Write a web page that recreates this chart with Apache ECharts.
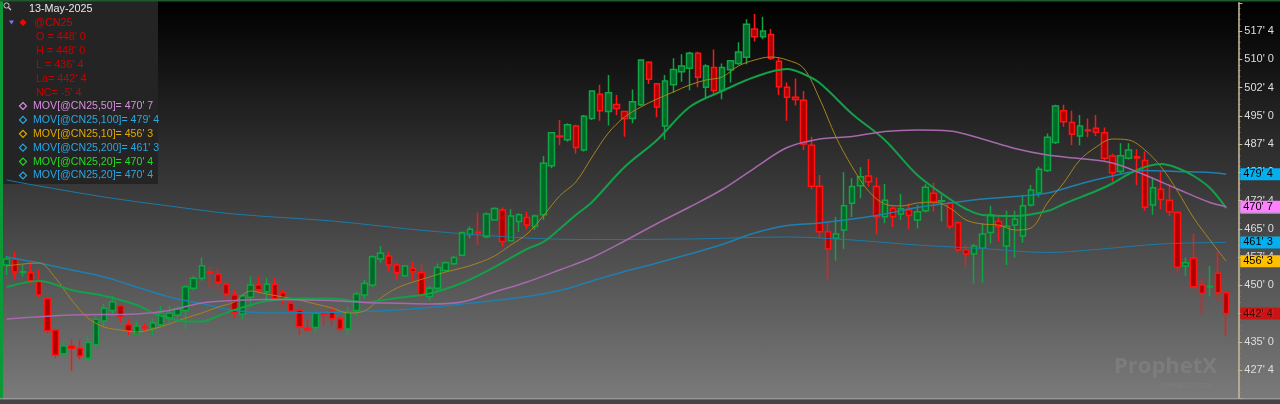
<!DOCTYPE html>
<html><head><meta charset="utf-8">
<script src="https://cdn.jsdelivr.net/npm/echarts@6/dist/echarts.min.js"></script>
<style>
html,body{margin:0;padding:0;background:#000;overflow:hidden;}
#c{width:1280px;height:404px;background:linear-gradient(to bottom,#000 0px,#020202 10px,#7a7a7a 398px);}
</style></head><body><div id="c"></div>
<script>
// ---- candle data (price in cents, eighths as decimals) ----
const opens  = [455.4,456.9,453.4,453.3,451.0,446.5,438.1,431.8,433.9,433.3,430.6,434.2,440.5,443.3,444.6,439.5,437.1,438.9,438.6,439.5,441.2,442.1,443.3,449.2,451.9,453.6,453.0,450.3,447.4,442.4,446.8,450.1,448.3,450.3,448.0,445.2,443.4,438.5,438.8,442.5,443.2,441.1,438.4,443.3,447.4,450.1,457.0,457.8,455.4,452.5,454.5,453.3,447.0,449.2,453.9,455.7,458.0,463.5,464.1,462.9,467.3,470.0,461.8,466.9,468.0,465.6,468.7,481.7,489.6,488.6,492.3,485.9,494.3,500.7,496.1,498.0,496.1,494.3,497.9,509.2,503.5,492.3,503.2,506.7,507.6,511.6,502.6,507.8,501.7,507.2,508.9,510.5,518.0,516.0,516.6,509.5,502.6,499.9,499.1,487.2,476.3,464.2,462.5,464.7,471.8,476.4,479.0,476.2,468.2,470.4,468.9,470.0,467.3,469.8,474.4,472.3,471.8,466.6,459.4,458.3,459.8,464.0,466.9,460.4,466.0,463.1,471.3,474.5,480.5,487.9,496.3,493.2,489.6,491.2,491.7,490.5,484.3,480.2,483.7,484.1,483.1,471.3,475.5,472.6,469.3,455.1,457.2,450.1,449.6,453.2,448.0];
const highs  = [457.8,458.9,455.6,456.1,454.2,446.8,438.3,435.7,435.7,435.7,436.6,441.8,445.0,447.2,444.8,441.1,440.4,439.9,441.1,444.5,444.5,444.5,450.0,452.5,457.4,454.8,454.8,451.0,448.9,447.7,452.3,452.3,452.0,452.0,448.8,446.1,444.1,441.0,443.0,443.4,444.5,441.8,444.2,448.3,451.4,458.0,460.4,458.9,456.0,455.4,456.4,455.7,449.8,455.8,456.3,457.8,464.2,465.6,469.3,469.3,470.7,470.7,470.2,469.1,469.5,468.8,484.3,490.6,493.9,493.0,492.6,495.2,501.8,503.2,505.8,500.5,496.3,502.0,510.0,509.5,503.7,505.8,510.3,511.3,512.0,512.0,508.7,512.6,508.9,509.8,514.5,520.6,522.0,521.3,518.0,510.4,503.8,504.9,501.6,489.4,479.3,466.9,468.1,480.0,478.4,481.3,483.5,478.6,476.9,471.0,474.2,471.6,471.3,476.9,477.2,474.0,472.2,466.9,460.7,461.0,466.5,471.1,468.1,469.8,469.8,474.0,476.6,481.5,490.3,497.9,497.9,496.3,495.2,494.3,495.2,491.9,484.9,487.7,487.7,486.1,485.5,478.7,480.2,476.9,469.6,457.4,463.6,451.9,455.1,458.9,448.0];
const lows   = [452.7,451.6,452.3,450.2,446.9,437.2,430.6,430.9,427.3,430.3,429.7,432.8,438.8,441.8,440.1,436.8,436.8,437.7,436.8,438.8,439.7,441.2,438.3,448.6,451.2,449.2,448.6,445.5,441.5,441.0,444.3,447.7,446.3,445.9,444.8,442.7,436.8,437.9,437.1,439.3,439.2,437.7,436.8,441.8,446.3,449.5,456.0,453.6,451.4,452.3,451.2,446.8,445.9,448.6,453.6,455.4,457.8,462.5,460.7,462.5,467.1,460.2,461.6,464.2,464.9,464.7,467.3,481.1,487.2,488.1,485.0,485.5,493.9,493.7,492.4,495.2,489.4,493.0,497.6,503.4,494.6,488.6,501.1,504.0,501.8,502.6,499.6,500.8,499.4,503.8,508.5,508.7,514.7,515.3,509.8,500.5,493.7,497.7,485.9,475.5,462.5,451.4,456.5,459.6,468.1,473.1,476.2,463.6,466.5,465.4,467.3,464.9,465.1,469.3,469.5,466.9,464.9,458.7,454.9,450.5,450.7,461.1,461.6,455.4,457.4,461.3,470.9,473.4,480.1,487.5,492.1,487.2,487.2,489.3,489.6,483.1,477.5,479.3,483.4,476.6,469.8,468.7,470.2,468.4,453.3,452.5,448.8,442.4,447.0,445.6,436.5];
const closes = [457.0,453.5,453.6,451.2,447.4,437.9,431.5,433.9,433.3,431.2,434.8,441.0,443.9,445.6,441.7,437.9,439.2,438.7,440.0,442.6,442.6,443.7,449.6,451.9,455.2,453.4,450.8,447.7,442.7,447.2,450.1,448.8,450.3,446.5,446.3,443.2,439.0,438.2,442.6,442.2,441.1,438.4,443.0,447.7,450.5,457.6,458.5,455.4,453.3,455.1,453.6,447.4,449.2,454.7,456.0,457.4,464.0,464.9,463.9,468.9,470.4,461.6,468.4,468.7,466.0,468.4,482.4,490.5,489.4,492.6,486.6,494.9,501.6,496.3,501.1,496.9,494.3,498.7,509.8,504.7,497.3,504.2,507.3,508.2,511.6,505.2,508.2,501.7,507.8,509.6,511.9,519.3,516.0,517.5,510.3,502.7,499.9,499.3,487.5,476.3,464.2,459.6,463.6,471.1,476.2,478.8,477.5,468.2,472.6,468.2,470.3,468.5,469.5,476.0,471.9,472.45,465.6,459.4,458.3,460.4,463.6,468.7,465.6,465.7,467.5,471.1,475.3,480.8,489.3,497.6,493.4,490.1,492.3,491.0,490.6,483.7,479.9,484.4,485.9,483.8,470.7,475.9,472.8,469.5,454.8,456.0,449.6,447.9,449.7,448.0,442.5];

// ---- moving averages: [candle index, value] ----
const ma10 = [[0,455.12],[2,455.65],[4,455.91],[6,451.93],[8,446.09],[10,441.31],[12,438.92],[14,438.13],[16,437.60],[18,438.39],[20,439.72],[22,441.31],[24,442.64],[26,444.23],[28,445.56],[30,448.48],[32,447.68],[34,446.89],[36,446.09],[38,445.03],[40,443.97],[42,442.64],[44,443.17],[46,446.62],[48,449.28],[50,450.87],[52,452.20],[54,453.52],[56,454.59],[58,455.91],[60,457.77],[62,460.69],[64,463.61],[66,468.39],[68,473.70],[70,477.42],[72,484.05],[74,490.42],[76,494.67],[78,497.33],[80,499.45],[82,501.31],[84,503.17],[86,504.49],[88,505.29],[90,508.21],[92,509.80],[94,510.60],[96,509.80],[98,507.68],[100,499.45],[102,489.36],[104,481.40],[106,475.03],[108,471.58],[110,471.05],[112,471.84],[114,472.11],[116,470.51],[118,467.33],[120,466.27],[122,466.00],[124,464.67],[126,465.21],[128,471.84],[130,477.15],[132,483.26],[134,486.71],[136,488.83],[138,488.57],[140,485.91],[142,481.40],[144,475.03],[146,467.86],[148,462.02],[150,456.375]];
const ma20 = [[0,449.54],[4,451.14],[8,448.75],[12,447.15],[16,444.76],[18,442.64],[20,441.31],[22,440.38],[24,440.38],[26,441.84],[28,443.44],[30,444.76],[32,445.83],[36,446.49],[40,446.49],[44,445.56],[48,446.62],[52,447.82],[56,450.60],[60,454.85],[64,459.63],[66,461.49],[68,464.94],[70,468.66],[72,472.11],[76,481.40],[80,488.57],[84,497.33],[88,501.57],[92,505.29],[96,507.41],[98,506.09],[100,503.70],[104,495.47],[108,488.57],[112,479.27],[116,472.90],[118,470.25],[120,468.66],[124,468.39],[128,469.72],[130,471.58],[134,475.03],[136,477.02],[138,479.54],[140,481.40],[142,482.19],[144,481.13],[146,479.01],[148,475.82],[150,470.5]];
const ma50 = [[0,441.05],[8,442.11],[16,442.38],[20,443.30],[24,445.30],[28,445.96],[32,446.23],[40,445.96],[44,445.43],[48,445.22],[52,445.03],[56,445.56],[60,448.22],[64,450.87],[68,454.06],[72,457.37],[76,461.75],[80,466.40],[84,470.78],[88,475.43],[92,481.13],[96,486.57],[100,488.83],[104,489.50],[108,490.82],[112,491.22],[116,490.95],[120,488.83],[124,486.31],[128,484.58],[132,483.65],[136,482.46],[140,479.27],[144,475.56],[148,471.97],[150,470.875]];
const ma100 = [[0,457.51],[4,455.91],[8,454.06],[12,452.20],[16,449.54],[20,446.89],[24,445.16],[28,443.30],[32,442.64],[40,442.83],[48,443.44],[56,445.03],[64,447.02],[68,448.61],[72,451.14],[76,453.66],[80,455.91],[84,458.30],[88,460.83],[92,463.88],[96,465.87],[100,466.53],[104,467.59],[108,468.92],[112,470.65],[116,471.84],[120,472.90],[124,473.57],[128,474.50],[132,476.89],[136,479.01],[140,480.47],[144,480.20],[148,479.94],[150,479.5]];
const ma200 = [[0,477.95],[4,476.35],[12,473.43],[20,471.05],[28,468.92],[40,467.06],[52,464.41],[64,462.55],[72,462.15],[84,462.29],[96,462.82],[104,462.02],[112,460.69],[120,459.76],[128,458.70],[134,459.50],[142,460.96],[150,461.375]];
const lastClose = 442.5;

// ---- legend texts ----
const headerDate = '13-May-2025';
const symbolName = '@CN25';
const quoteLines = ["O = 448' 0", "H = 448' 0", "L = 436' 4", "La= 442' 4", "NC= -5' 4"];
const studyLines = [
  ["MOV[@CN25,50]= 470' 7", '#d88ce0'],
  ["MOV[@CN25,100]= 479' 4", '#2aa6e4'],
  ["MOV[@CN25,10]= 456' 3", '#e2a800'],
  ["MOV[@CN25,200]= 461' 3", '#2aa6e4'],
  ["MOV[@CN25,20]= 470' 4", '#22dd22'],
  ["MOV[@CN25,20]= 470' 4", '#2aa6e4']
];

// categories: trading days ending 13-May-2025 (labels hidden)
const categories = [];
(function(){
  let d = new Date(Date.UTC(2025,4,13)); const out = [];
  while (out.length < opens.length) {
    const wd = d.getUTCDay();
    if (wd !== 0 && wd !== 6) out.push(d.toISOString().slice(0,10));
    d.setUTCDate(d.getUTCDate() - 1);
  }
  out.reverse(); categories.push(...out);
})();

function fmt(v){
  const ip = Math.floor(v + 1e-9);
  const e = Math.round((v - ip) * 8);
  return ip + "' " + e;
}

const FONT = '"Liberation Sans", Arial, sans-serif';
const chart = echarts.init(document.getElementById('c'), null, {renderer:'canvas'});

function endLbl(bg){
  return {show:true, distance:14, formatter:p => fmt(p.value[1]), color:'#000', backgroundColor:bg,
    fontSize:11, fontFamily:FONT, padding:[1,3,0,3], width:34, lineHeight:11};
}
function maSeries(name, data, color, width, bg){
  return {name, type:'line', data, smooth:0.35, showSymbol:false, symbol:'none', silent:true,
    lineStyle:{color, width}, z:3, endLabel:endLbl(bg), labelLayout:{hideOverlap:false}};
}

const legendChildren = [
  {type:'rect', shape:{x:3,y:0,width:155,height:184}, style:{fill:'#242424'}},
  {type:'circle', shape:{cx:6.5,cy:5.5,r:2.6}, style:{fill:'none', stroke:'#cfcfcf', lineWidth:1}},
  {type:'line', shape:{x1:8.5,y1:7.5,x2:11,y2:10}, style:{stroke:'#cfcfcf', lineWidth:1.2}},
  {type:'text', x:29, y:9.5, style:{text:headerDate, fill:'#e8e8e8', font:'10.8px '+FONT, verticalAlign:'middle'}},
  {type:'polygon', shape:{points:[[9,20.5],[14,20.5],[11.5,24.5]]}, style:{fill:'#7a72ff'}},
  {type:'polygon', shape:{points:[[23,19],[26.5,22.5],[23,26],[19.5,22.5]]}, style:{fill:'#ff0000'}},
  {type:'text', x:34, y:23, style:{text:symbolName, fill:'#d80000', font:'10.8px '+FONT, verticalAlign:'middle'}}
];
quoteLines.forEach((t,k)=>{
  legendChildren.push({type:'text', x:36, y:37.5 + k*13.8, style:{text:t, fill:'#c80000', font:'10.8px '+FONT, verticalAlign:'middle'}});
});
studyLines.forEach((s,k)=>{
  const cy = 106 + k*13.9;
  legendChildren.push({type:'polygon', shape:{points:[[23,cy-3.5],[26.5,cy],[23,cy+3.5],[19.5,cy]]}, style:{fill:'none', stroke:s[1], lineWidth:1.2}});
  legendChildren.push({type:'text', x:33, y:cy, style:{text:s[0], fill:s[1], font:'10.6px '+FONT, verticalAlign:'middle'}});
});

const option = {
  animation:false,
  backgroundColor:'transparent',
  grid:{left:2.6, right:49.7, top:2.75, bottom:5.7, containLabel:false, outerBoundsMode:'none'},
  xAxis:{type:'category', data:categories, boundaryGap:true,
    axisLine:{show:false}, axisTick:{show:false}, axisLabel:{show:false}, splitLine:{show:false}},
  yAxis:{type:'value', position:'right', offset:8, min:420, max:525, interval:7.5,
    axisLine:{show:true, lineStyle:{color:'#c9bd98', width:1.5}},
    axisTick:{show:true, length:4, lineStyle:{color:'#c9bd98', width:1}},
    minorTick:{show:true, splitNumber:5, length:2, lineStyle:{color:'#b0a688', width:1}},
    splitLine:{show:false},
    axisLabel:{color:'#dedede', fontSize:11, fontFamily:FONT, margin:6, showMinLabel:false, showMaxLabel:false, formatter:fmt}},
  series:[
    {type:'candlestick', data:opens.map((o,i)=>[o, closes[i], lows[i], highs[i]]), barWidth:6, z:2, silent:true,
      itemStyle:{color:'#006b29', color0:'#b00000', borderColor:'#12a444', borderColor0:'#ff1414', borderWidth:1.5}},
    maSeries('MA200', ma200, '#1f79a6', 1, '#00b0f0'),
    maSeries('MA100', ma100, '#1f7fae', 1.5, '#00b0f0'),
    maSeries('MA10', ma10, '#a8841c', 1, '#ffc000'),
    maSeries('MA20', ma20, '#12a048', 2, '#22cc44'),
    maSeries('MA50', ma50, '#a868ac', 1.5, '#ff80ff'),
    {type:'scatter', data:[[opens.length-1, lastClose]], symbolSize:0, silent:true, z:5,
      label:{show:true, position:'right', distance:14, formatter:p => fmt(p.value[1]), color:'#200000', backgroundColor:'#e60000',
        fontSize:11, fontFamily:FONT, padding:[1,3,0,3], width:34, lineHeight:11}}
  ],
  graphic:[
    {type:'rect', shape:{x:0,y:0,width:3,height:404}, style:{fill:'#0b9a35'}, z:100},
    {type:'rect', shape:{x:0,y:0,width:1280,height:1.5}, style:{fill:'#1f5a2d'}, z:100},
    {type:'rect', shape:{x:0,y:398.2,width:1280,height:1.2}, style:{fill:'#a3a3a3'}, z:100},
    {type:'rect', shape:{x:0,y:399.4,width:1280,height:4.6}, style:{fill:'#454545'}, z:100},
    {type:'text', x:1114, y:356, style:{text:'ProphetX', fill:'rgba(140,140,140,0.45)', font:'bold 22px "Open Sans", sans-serif'}, z:1},
    {type:'text', x:1160, y:382, style:{text:'POWERED BY DTN', fill:'rgba(140,140,140,0.45)', font:'6px "Open Sans", sans-serif'}, z:1},
    {type:'group', children:legendChildren, z:50}
  ]
};
chart.setOption(option);
</script></body></html>
